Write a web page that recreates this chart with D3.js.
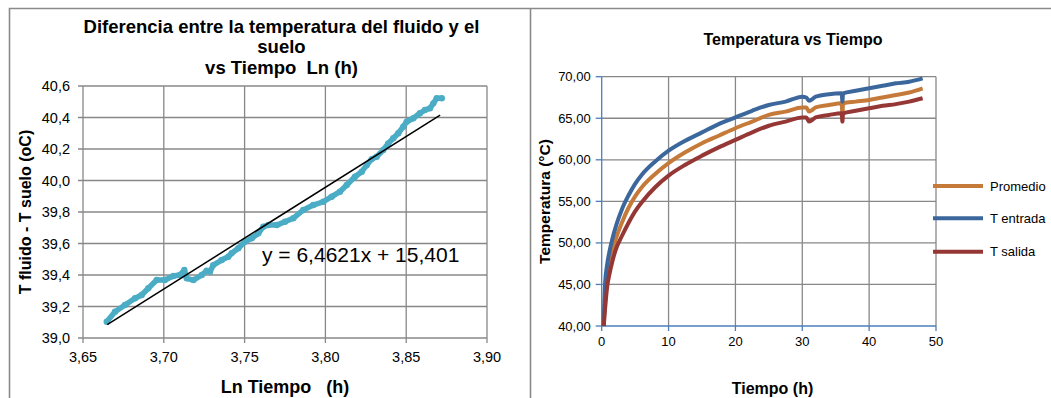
<!DOCTYPE html>
<html><head><meta charset="utf-8">
<script src="https://cdn.jsdelivr.net/npm/d3@7"></script>
<style>
body{margin:0;background:#fff}
svg{display:block}
text{font-family:'Liberation Sans',Arial,sans-serif;fill:#000}
</style>
</head><body><svg id="c" width="1051" height="398"></svg>
<script>
// ---------- Left chart data ----------
const lnTime = [3.6647,3.6698,3.6760,3.6822,3.6863,3.6904,3.6956,3.7007,3.7059,3.7100,3.7127,3.7142,3.7183,3.7235,3.7265,3.7286,3.7306,3.7358,3.7399,3.7420,3.7461,3.7502,3.7544,3.7585,3.7616,3.7647,3.7699,3.7750,3.7801,3.7863,3.7925,3.7987,3.8039,3.8090,3.8132,3.8183,3.8225,3.8256,3.8287,3.8317,3.8358,3.8389,3.8420,3.8451,3.8482,3.8503,3.8544,3.8585,3.8616,3.8647,3.8668,3.8689,3.8720];
const deltaT = [39.103,39.167,39.210,39.252,39.273,39.316,39.368,39.368,39.394,39.400,39.432,39.379,39.368,39.400,39.427,39.421,39.463,39.495,39.516,39.538,39.570,39.611,39.633,39.665,39.707,39.717,39.717,39.738,39.760,39.813,39.844,39.865,39.897,39.929,39.971,40.024,40.056,40.098,40.136,40.151,40.194,40.236,40.268,40.300,40.342,40.373,40.395,40.427,40.448,40.458,40.490,40.522,40.522];
const trendSlope = 6.4621, trendIntercept = 15.401;
const trendRange = [3.665, 3.871];
const leftXTicks = [3.65,3.70,3.75,3.80,3.85,3.90];
const leftYTicks = [39.0,39.2,39.4,39.6,39.8,40.0,40.2,40.4,40.6];
const leftTitle = ["Diferencia entre la temperatura del fluido y el","suelo","vs Tiempo  Ln (h)"];
const leftXLabel = "Ln Tiempo   (h)";
const leftYLabel = "T fluido - T suelo (oC)";
const equationText = "y = 6,4621x + 15,401";

// ---------- Right chart data ----------
const hours     = [0.3,0.5,0.8,1.2,1.6,2.2,3,4,5,6,8,10,12.5,15,17.5,20,22.5,25,27.5,30,30.6,31,31.5,32,34,35.9,36,36.1,38,40,42,44,46,48];
const tPromedio = [40.0,43.5,45.8,47.6,49.0,50.7,52.4,54.2,55.6,56.7,58.3,59.6,60.9,62.0,62.9,63.8,64.6,65.4,65.8,66.3,66.3,65.8,66.0,66.3,66.6,66.8,65.4,66.8,67.0,67.2,67.5,67.8,68.1,68.6];
const tEntrada  = [40.0,45.0,47.3,49.1,50.5,52.2,54.0,55.7,57.1,58.2,59.8,61.1,62.3,63.3,64.3,65.1,65.9,66.6,67.0,67.6,67.5,67.1,67.3,67.6,67.9,68.0,67.0,68.0,68.3,68.6,68.9,69.2,69.4,69.8];
const tSalida   = [40.0,42.0,44.6,46.4,47.8,49.4,50.8,52.4,53.8,54.9,56.7,58.1,59.4,60.5,61.5,62.4,63.3,64.1,64.6,65.1,65.1,64.6,64.8,65.1,65.4,65.6,64.6,65.6,65.9,66.2,66.5,66.7,67.0,67.4];
const rightXTicks = [0,10,20,30,40,50];
const rightYTicks = [40,45,50,55,60,65,70];
const seriesNames = ["Promedio","T entrada","T salida"];
const seriesColors = ["#C57A3A","#3B679C","#953735"];
const rightTitle = "Temperatura vs Tiempo";
const rightXLabel = "Tiempo (h)";
const rightYLabel = "Temperatura (°C)";

const svg = d3.select("#c");
const comma = f => v => d3.format(f)(v).replace(".", ",");
const gridCol = "#888888";

// ---------- Frames ----------
svg.append("path").attr("d","M9.5,398 V8.5 H1051").attr("fill","none").attr("stroke","#8a8a8a").attr("stroke-width",1.6);
svg.append("line").attr("x1",530.5).attr("x2",530.5).attr("y1",8.5).attr("y2",398).attr("stroke","#8a8a8a").attr("stroke-width",1.6);

// ---------- Left chart ----------
const L = {l:83, r:487, t:86, b:338};
const lx = d3.scaleLinear().domain([3.65,3.90]).range([L.l, L.r]);
const ly = d3.scaleLinear().domain([39.0,40.6]).range([L.b, L.t]);
const lg = svg.append("g");
leftXTicks.forEach(v => lg.append("line").attr("x1",lx(v)).attr("x2",lx(v)).attr("y1",L.t).attr("y2",L.b+5).attr("stroke",gridCol).attr("stroke-width",1.3));
leftYTicks.forEach(v => lg.append("line").attr("x1",L.l-5).attr("x2",L.r).attr("y1",ly(v)).attr("y2",ly(v)).attr("stroke",gridCol).attr("stroke-width",1.3));
lg.selectAll(".xl").data(leftXTicks).enter().append("text").attr("x",d=>lx(d)).attr("y",L.b+24)
  .attr("text-anchor","middle").attr("font-size",14.5).text(comma(".2f"));
lg.selectAll(".yl").data(leftYTicks).enter().append("text").attr("x",L.l-13).attr("y",d=>ly(d)+5)
  .attr("text-anchor","end").attr("font-size",14.5).text(comma(".1f"));

const pts = lnTime.map((x,i)=>[x,deltaT[i]]);
lg.append("path").datum(pts).attr("d", d3.line().x(d=>lx(d[0])).y(d=>ly(d[1])))
  .attr("fill","none").attr("stroke","#4BACC6").attr("stroke-width",5.5).attr("stroke-linejoin","round").attr("stroke-linecap","round");
lg.selectAll(".pt").data(pts).enter().append("circle").attr("cx",d=>lx(d[0])).attr("cy",d=>ly(d[1])).attr("r",3.2).attr("fill","#4BACC6");
lg.append("line").attr("x1",lx(trendRange[0])).attr("y1",ly(trendSlope*trendRange[0]+trendIntercept))
  .attr("x2",lx(trendRange[1])).attr("y2",ly(trendSlope*trendRange[1]+trendIntercept)).attr("stroke","#000").attr("stroke-width",1.5);
lg.append("text").attr("x",262).attr("y",261.5).attr("font-size",21).text(equationText);

leftTitle.forEach((s,i)=> lg.append("text").attr("x",281.5).attr("y",32.5+i*20.5).attr("text-anchor","middle")
  .attr("font-size",18.5).attr("font-weight","bold").style("white-space","pre").text(s));
lg.append("text").attr("x",285).attr("y",393).attr("text-anchor","middle").attr("font-size",18).attr("font-weight","bold")
  .style("white-space","pre").text(leftXLabel);
lg.append("text").attr("transform","translate(30.5,212) rotate(-90)").attr("text-anchor","middle").attr("font-size",16).attr("font-weight","bold").text(leftYLabel);

// ---------- Right chart ----------
const R = {l:601.7, r:936, t:76.7, b:326};
const rx = d3.scaleLinear().domain([0,50]).range([R.l, R.r]);
const ry = d3.scaleLinear().domain([40,70]).range([R.b, R.t]);
const rg = svg.append("g");
rightXTicks.forEach(v => { if (v>0) rg.append("line").attr("x1",rx(v)).attr("x2",rx(v)).attr("y1",R.t).attr("y2",R.b).attr("stroke",gridCol).attr("stroke-width",1.3); });
rightYTicks.forEach(v => { if (v>40) rg.append("line").attr("x1",R.l).attr("x2",R.r).attr("y1",ry(v)).attr("y2",ry(v)).attr("stroke",gridCol).attr("stroke-width",1.3); });
const axCol = "#4A7EBB";
rg.append("line").attr("x1",R.l).attr("x2",R.l).attr("y1",R.t).attr("y2",R.b).attr("stroke",axCol).attr("stroke-width",1.3);
rg.append("line").attr("x1",R.l).attr("x2",R.r).attr("y1",R.b).attr("y2",R.b).attr("stroke",axCol).attr("stroke-width",1.3);
rightYTicks.forEach(v => rg.append("line").attr("x1",R.l-6).attr("x2",R.l).attr("y1",ry(v)).attr("y2",ry(v)).attr("stroke",axCol).attr("stroke-width",1.3));
rightXTicks.forEach(v => rg.append("line").attr("x1",rx(v)).attr("x2",rx(v)).attr("y1",R.b).attr("y2",R.b+5).attr("stroke",axCol).attr("stroke-width",1.3));
rg.selectAll(".yl").data(rightYTicks).enter().append("text").attr("x",R.l-11).attr("y",d=>ry(d)+4.5)
  .attr("text-anchor","end").attr("font-size",13).text(comma(".2f"));
rg.selectAll(".xl").data(rightXTicks).enter().append("text").attr("x",d=>rx(d)).attr("y",R.b+20)
  .attr("text-anchor","middle").attr("font-size",13).text(d=>d);

const seriesVals = [tPromedio, tEntrada, tSalida];
const rline = d3.line().x((d,i)=>rx(hours[i])).y(d=>ry(d)).curve(d3.curveMonotoneX);
seriesVals.forEach((vals,k)=> rg.append("path").datum(vals).attr("d",rline).attr("fill","none")
  .attr("stroke",seriesColors[k]).attr("stroke-width",4).attr("stroke-linejoin","round"));

rg.append("text").attr("x",793).attr("y",44.5).attr("text-anchor","middle").attr("font-size",16).attr("font-weight","bold").text(rightTitle);
rg.append("text").attr("x",772.5).attr("y",394).attr("text-anchor","middle").attr("font-size",16).attr("font-weight","bold").text(rightXLabel);
rg.append("text").attr("transform","translate(550,201.5) rotate(-90)").attr("text-anchor","middle").attr("font-size",15.5).attr("font-weight","bold").text(rightYLabel);

const legY = [186, 218.3, 251.7];
seriesNames.forEach((n,k)=>{
  rg.append("line").attr("x1",933).attr("x2",983).attr("y1",legY[k]).attr("y2",legY[k]).attr("stroke",seriesColors[k]).attr("stroke-width",4);
  rg.append("text").attr("x",990).attr("y",legY[k]+4.5).attr("font-size",13).text(n);
});
</script>
</body></html>
